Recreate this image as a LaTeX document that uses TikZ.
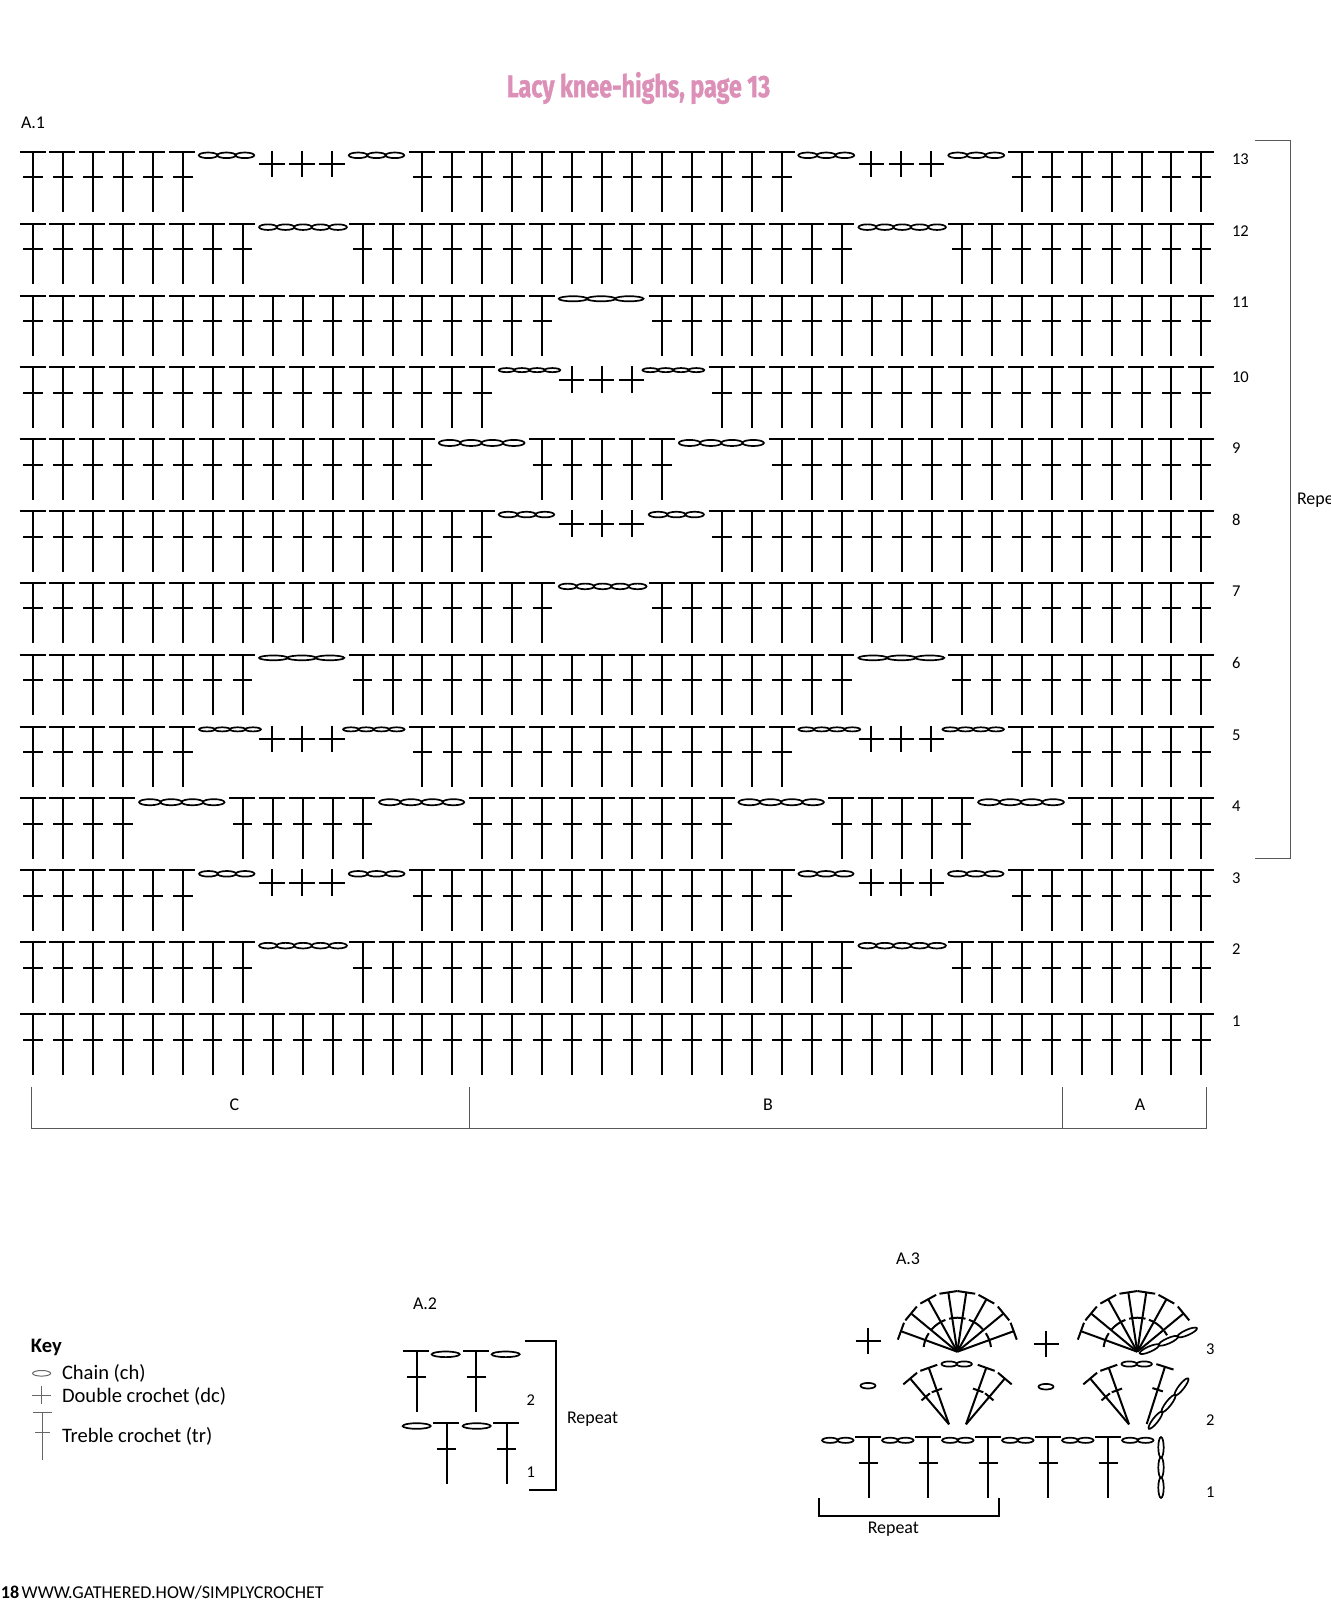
\documentclass[tikz,border=0pt]{standalone}
\usepackage{fontspec}
\usepackage{xcolor}
\setmainfont{Carlito}
\newfontfamily\titlefont[FakeStretch=0.75, BoldFeatures={FakeBold=1.2}]{Fira Sans}
\definecolor{titlepink}{HTML}{DC90B8}
\usetikzlibrary{positioning, calc}
\tikzset{
  lbl/.style={inner sep=0pt, font=\fontsize{11.7}{13}\selectfont, anchor=west},
  sublbl/.style={inner sep=0pt, font=\fontsize{10.2}{12}\selectfont, anchor=west},
  rownum/.style={inner sep=0pt, font=\fontsize{9.4}{11}\selectfont, anchor=west},
  chst/.style={line width=0.034cm},
  frameline/.style={line width=0.02cm, draw=black!65},
  boldframe/.style={line width=0.04cm},
  keyline/.style={line width=0.02cm, draw=black!60},
  pics/trst/.style={code={
    \draw (-13.5,0) -- (12.5,0);
    \draw (0,0) -- (0,-60.5);
    \draw (-9.7,-25.5) -- (9.7,-25.5);
  }},
  pics/dcst/.style={code={
    \draw (-13.2,-12.5) -- (12,-12.5);
    \draw (-0.7,1) -- (-0.7,-25.5);
  }},
  pics/fanst/.style={code={
    \draw (0,0) -- (60,0);
    \draw (60,-9) -- (60,9);
  }},
  pics/fantr/.style={code={
    \draw (0,0) -- (60,0);
    \draw (60,-9) -- (60,9);
    \draw (36,-5.5) -- (36,5.5);
  }}
}
\newcommand{\trrow}[2]{\pgfmathsetmacro{\rowy}{-1014+71.85*(#1-1)}\foreach \p in {#2}{\pic at ({33+29.96*\p},\rowy) {trst};}}
\newcommand{\dcrow}[2]{\pgfmathsetmacro{\rowy}{-1014+71.85*(#1-1)}\foreach \p in {#2}{\pic at ({33+29.96*\p},\rowy) {dcst};}}
\newcommand{\chainat}[6]{\foreach \k in {1,...,#5}{\draw[chst, shift={(#1,#2)}, rotate=#3] ({(\k-0.5)*(#4)/#5},0) ellipse [x radius={(#4)/#5/2+0.2}, y radius={#6}];}}
\newcommand{\chrow}[5]{\pgfmathsetmacro{\chy}{-1014+71.85*(#1-1)-#5/2}\chainat{#2}{\chy}{0}{#3-#2}{#4}{(#5-1.4)/2}}
\begin{document}
\begin{tikzpicture}[x=0.02cm, y=0.02cm, line width=0.04cm]
\useasboundingbox (0,0) rectangle (1331,-1600);

% Title
\node[inner sep=0pt, text=titlepink, font=\titlefont\bfseries\fontsize{17.7}{20}\selectfont] (title) at (638.5,-88) {Lacy knee-highs, page 13};

% A.1 rows
\node[sublbl] (aone) at (20,-123) {A.1};
\trrow{13}{0,1,...,5,13,14,...,25,33,34,...,39}
\dcrow{13}{8,9,10,28,29,30}
\chrow{13}{199}{254}{3}{7} \chrow{13}{349}{404}{3}{7} \chrow{13}{798.5}{854}{3}{7} \chrow{13}{948.5}{1004}{3}{7}

\trrow{12}{0,1,...,7,11,12,...,27,31,32,...,39}
\chrow{12}{259.3}{346.7}{5}{7} \chrow{12}{858.7}{945.7}{5}{7}

\trrow{11}{0,1,...,17,21,22,...,39}
\chrow{11}{559}{643.3}{3}{6.5}

\trrow{10}{0,1,...,15,23,24,...,39}
\dcrow{10}{18,19,20}
\chrow{10}{499}{560}{4}{5.5} \chrow{10}{642.7}{704}{4}{5.5}

\trrow{9}{0,1,...,13,17,18,...,21,25,26,...,39}
\chrow{9}{439}{524.3}{4}{7.5} \chrow{9}{679}{763.7}{4}{7.5}

\trrow{8}{0,1,...,15,23,24,...,39}
\dcrow{8}{18,19,20}
\chrow{8}{499}{554}{3}{7} \chrow{8}{649}{703.7}{3}{7}

\trrow{7}{0,1,...,17,21,22,...,39}
\chrow{7}{559}{646.3}{5}{7}

\trrow{6}{0,1,...,7,11,12,...,27,31,32,...,39}
\chrow{6}{259.3}{344}{3}{6.2} \chrow{6}{858.7}{944}{3}{6.2}

\trrow{5}{0,1,...,5,13,14,...,25,33,34,...,39}
\dcrow{5}{8,9,10,28,29,30}
\chrow{5}{199.3}{260.7}{4}{5.5} \chrow{5}{343.3}{404.3}{4}{5.5} \chrow{5}{798.7}{860}{4}{5.5} \chrow{5}{942.7}{1003.7}{4}{5.5}

\trrow{4}{0,1,2,3,7,8,...,11,15,16,...,23,27,28,...,31,35,36,...,39}
\chrow{4}{139.3}{224.3}{4}{7.5} \chrow{4}{379.3}{464}{4}{7.5} \chrow{4}{738.7}{823.7}{4}{7.5} \chrow{4}{978.3}{1063.7}{4}{7.5}

\trrow{3}{0,1,...,5,13,14,...,25,33,34,...,39}
\dcrow{3}{8,9,10,28,29,30}
\chrow{3}{199.3}{254.3}{3}{7} \chrow{3}{349}{404.3}{3}{7} \chrow{3}{798.7}{853.3}{3}{7} \chrow{3}{948.3}{1003.3}{3}{7}

\trrow{2}{0,1,...,7,11,12,...,27,31,32,...,39}
\chrow{2}{259.3}{346.7}{5}{7} \chrow{2}{858.7}{945.7}{5}{7}

\trrow{1}{0,1,...,39}

% Row numbers
\foreach \n/\ny in {13/159.5,12/231.5,11/302.5,10/377,9/448.5,8/520,7/591.5,6/662.5,5/735.5,4/806.5,3/878.5,2/949.5,1/1021.5}{
  \node[rownum] (r\n) at (1231,-\ny) {\n};
}

% Repeat brackets
\draw[frameline] (1254.5,-140) -- (1290,-140) -- (1290,-858.5) -- (1254.5,-858.5);
\node[sublbl] (reptop) at (1296,-500.5) {Repe};
\draw[frameline] (31.6,-1086.7) -- (31.6,-1128) -- (1206.7,-1128) -- (1206.7,-1086.7);
\draw[frameline] (469.5,-1086.7) -- (469.5,-1128);
\draw[frameline] (1062.7,-1086.7) -- (1062.7,-1128);
\node[sublbl, anchor=center] (secc) at (234.5,-1104.5) {C};
\node[sublbl, anchor=center] (secb) at (768,-1104.5) {B};
\node[sublbl, anchor=center] (seca) at (1140,-1104.5) {A};

% Key
\node[lbl, font=\bfseries\fontsize{11.7}{13}\selectfont] (key) at (30,-1347) {Key};
\draw[keyline] (41.6,-1373.3) ellipse [x radius=9, y radius=2.8];
\node[lbl] (keych) at (61,-1373.5) {Chain (ch)};
\draw[keyline] (32,-1395) -- (51.4,-1395);
\draw[keyline] (41.6,-1386) -- (41.6,-1404);
\node[lbl] (keydc) at (61,-1396.5) {Double crochet (dc)};
\draw[keyline] (32.6,-1412.3) -- (52.2,-1412.3);
\draw[keyline] (42.4,-1412.3) -- (42.4,-1460);
\draw[keyline] (35,-1432.7) -- (50,-1432.7);
\node[lbl] (keytr) at (61,-1436.5) {Treble crochet (tr)};

% A.2
\node[sublbl] (atwo) at (412,-1304) {A.2};
\pic at (416.7,-1351.3) {trst};
\pic at (476.3,-1351.3) {trst};
\draw[chst] (445.7,-1354.3) ellipse [x radius=14, y radius=2.8];
\draw[chst] (505.7,-1354.3) ellipse [x radius=14, y radius=2.8];
\draw[chst] (416.7,-1426) ellipse [x radius=14, y radius=2.8];
\draw[chst] (476.7,-1426) ellipse [x radius=14, y radius=2.8];
\pic at (446.5,-1423) {trst};
\pic at (506.5,-1423) {trst};
\node[rownum] (atwob) at (525.5,-1400) {2};
\node[rownum] (atwoa) at (525.5,-1471.7) {1};
\draw[boldframe] (525.3,-1340.7) -- (556,-1340.7) -- (556,-1490) -- (529.4,-1490);
\node[sublbl] (atworep) at (566,-1419.5) {Repeat};

% A.3 foundation row
\node[sublbl] (athree) at (895,-1259) {A.3};
\foreach \sx in {868.7,928.3,988.3,1048.3,1108.3}{
  \pic at (\sx,-1437) {trst};
}
\foreach \sx in {822.3,882.3,942.3,1002.3,1062.3,1122.3}{
  \chainat{\sx}{-1440.3}{0}{31}{2}{2.6}
}
\chainat{1161}{-1437.3}{270}{60.4}{3}{2.7}
\node[rownum] (athreec) at (1205,-1349) {3};
\node[rownum] (athreeb) at (1205,-1420) {2};
\node[rownum] (athreea) at (1205,-1491.7) {1};
\draw[boldframe] (819.3,-1498.3) -- (819.3,-1516) -- (999.3,-1516) -- (999.3,-1498.3);
\node[sublbl, anchor=center] (athreerep) at (893.3,-1529.5) {Repeat};

% A.3 row 2
\draw[chst] (868,-1385.7) ellipse [x radius=7.5, y radius=2.8];
\draw[chst] (1046,-1386.7) ellipse [x radius=7.5, y radius=2.8];
\foreach \ax in {949,1129}{
  \pic[rotate=130.3] at (\ax,-1424.3) {fantr};
  \pic[rotate=109.7] at (\ax,-1424.3) {fantr};
}
\pic[rotate=70.3] at (966,-1424.3) {fantr};
\pic[rotate=49.7] at (966,-1424.3) {fantr};
\pic[rotate=72.3] at (1146.7,-1424) {fantr};
\chainat{941.7}{-1364}{0}{30}{2}{2.6}
\chainat{1121.7}{-1364}{0}{30}{2}{2.6}
\chainat{1149}{-1428.5}{52}{63.4}{3}{2.7}

% A.3 row 3
\pic at (868.7,-1328.5) {dcst};
\pic at (1047,-1331.8) {dcst};
\foreach \a in {160,140.4,119,98.6,81.4,61,39.6,20}{
  \pic[rotate=\a] at (957.3,-1351.7) {fanst};
}
\foreach \a in {160,140.4,119,98.6,81.4,61,39.6}{
  \pic[rotate=\a] at (1137.3,-1351.7) {fanst};
}
\foreach \ax in {957.3,1137.3}{
  \foreach \sa/\ea in {172/147,139/110.6,104/76,70/41}{
    \draw ([shift={(\ax,-1351.7)}]\sa:34) arc[start angle=\sa, end angle=\ea, radius=34];
  }
}
\draw ([shift={(957.3,-1351.7)}]33:34) arc[start angle=33, end angle=8, radius=34];
\draw ([shift={(1137.3,-1351.7)}]38:34) arc[start angle=38, end angle=29, radius=34];
\chainat{1140}{-1353.3}{23.8}{62}{3}{2.7}

% Footer
\node[lbl, font=\fontsize{10.3}{12}\selectfont] (footer) at (0,-1592.5) {\textbf{18}\hspace{-1pt} WWW.GATHERED.HOW/SIMPLYCROCHET};
\end{tikzpicture}
\end{document}
